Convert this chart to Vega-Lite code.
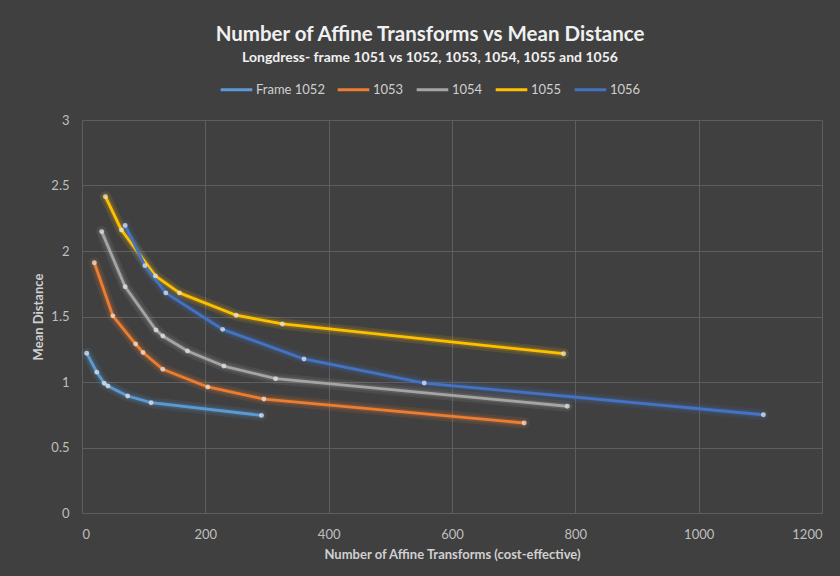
{
  "$schema": "https://vega.github.io/schema/vega-lite/v6.json",
  "autosize": "none",
  "width": 740,
  "height": 393,
  "padding": {"left": 82, "top": 120, "right": 18, "bottom": 63},
  "background": "#404040",
  "title": {
    "text": "Number of Affine Transforms vs Mean Distance",
    "subtitle": "Longdress- frame 1051 vs 1052, 1053, 1054, 1055 and 1056",
    "anchor": "middle",
    "frame": "group",
    "dx": -22,
    "offset": 7,
    "font": "Lato",
    "fontSize": 20.5,
    "fontWeight": "bold",
    "color": "#f0f0f0",
    "subtitleFont": "Lato",
    "subtitleFontSize": 14,
    "subtitleFontWeight": "bold",
    "subtitleColor": "#f0f0f0",
    "subtitlePadding": 6
  },
  "data": {
    "values": [
      {"series": "Frame 1052", "x": 7.6, "y": 1.22},
      {"series": "Frame 1052", "x": 24, "y": 1.075},
      {"series": "Frame 1052", "x": 36, "y": 0.99},
      {"series": "Frame 1052", "x": 42, "y": 0.97},
      {"series": "Frame 1052", "x": 74, "y": 0.893},
      {"series": "Frame 1052", "x": 112, "y": 0.842},
      {"series": "Frame 1052", "x": 291, "y": 0.745},
      {"series": "1053", "x": 20, "y": 1.91},
      {"series": "1053", "x": 50, "y": 1.505},
      {"series": "1053", "x": 87, "y": 1.29},
      {"series": "1053", "x": 99, "y": 1.225},
      {"series": "1053", "x": 131, "y": 1.097},
      {"series": "1053", "x": 204, "y": 0.962},
      {"series": "1053", "x": 295, "y": 0.87},
      {"series": "1053", "x": 717, "y": 0.687},
      {"series": "1054", "x": 32, "y": 2.148},
      {"series": "1054", "x": 70, "y": 1.727},
      {"series": "1054", "x": 120, "y": 1.397},
      {"series": "1054", "x": 131, "y": 1.351},
      {"series": "1054", "x": 171, "y": 1.237},
      {"series": "1054", "x": 230, "y": 1.122},
      {"series": "1054", "x": 314, "y": 1.025},
      {"series": "1054", "x": 787, "y": 0.815},
      {"series": "1055", "x": 38, "y": 2.415},
      {"series": "1055", "x": 64, "y": 2.16},
      {"series": "1055", "x": 119, "y": 1.81},
      {"series": "1055", "x": 158, "y": 1.68},
      {"series": "1055", "x": 250, "y": 1.51},
      {"series": "1055", "x": 325, "y": 1.443},
      {"series": "1055", "x": 781, "y": 1.216},
      {"series": "1056", "x": 70, "y": 2.195},
      {"series": "1056", "x": 102, "y": 1.888},
      {"series": "1056", "x": 136, "y": 1.68},
      {"series": "1056", "x": 228, "y": 1.402},
      {"series": "1056", "x": 360, "y": 1.176},
      {"series": "1056", "x": 555, "y": 0.992},
      {"series": "1056", "x": 1105, "y": 0.75}
    ]
  },
  "encoding": {
    "x": {
      "field": "x", "type": "quantitative",
      "scale": {"domain": [0, 1200], "nice": false, "zero": true},
      "axis": {
        "title": "Number of Affine Transforms (cost-effective)",
        "values": [0, 200, 400, 600, 800, 1000, 1200],
        "format": "d",
        "labelPadding": 15,
        "titlePadding": 7
      }
    },
    "y": {
      "field": "y", "type": "quantitative",
      "scale": {"domain": [0, 3], "nice": false},
      "axis": {
        "title": "Mean Distance",
        "values": [0, 0.5, 1, 1.5, 2, 2.5, 3],
        "format": "~g",
        "labelPadding": 13,
        "titlePadding": 5
      }
    },
    "color": {
      "field": "series", "type": "nominal",
      "scale": {
        "domain": ["Frame 1052", "1053", "1054", "1055", "1056"],
        "range": ["#5B9BD5", "#ED7D31", "#A5A5A5", "#FFC000", "#4472C4"]
      },
      "legend": {
        "title": null,
        "orient": "none",
        "direction": "horizontal",
        "legendX": 137,
        "legendY": -48,
        "symbolType": "stroke",
        "symbolStrokeWidth": 3,
        "symbolSize": 1000,
        "symbolOpacity": 1,
        "labelFont": "Lato",
        "labelFontSize": 13,
        "labelColor": "#d0d0d0",
        "labelOffset": 2,
        "columnPadding": 6
      }
    }
  },
  "layer": [
    {
      "mark": {"type": "line", "strokeWidth": 11, "opacity": 0.12, "strokeCap": "round", "strokeJoin": "round"}
    },
    {
      "mark": {"type": "line", "strokeWidth": 6, "opacity": 0.18, "strokeCap": "round", "strokeJoin": "round"}
    },
    {
      "mark": {"type": "line", "strokeWidth": 2.8, "strokeJoin": "round"}
    },
    {
      "mark": {"type": "point", "filled": true, "size": 24, "opacity": 0.75},
      "encoding": {
        "color": {"value": "#e6e6e6"}
      }
    }
  ],
  "config": {
    "view": {"stroke": null},
    "axis": {
      "domain": false,
      "ticks": false,
      "grid": true,
      "gridColor": "#5e5e5e",
      "gridWidth": 1,
      "labelFont": "Lato",
      "labelFontSize": 13,
      "labelColor": "#bfbfbf",
      "titleFont": "Lato",
      "titleFontSize": 13,
      "titleFontWeight": "bold",
      "titleColor": "#d0d0d0"
    }
  }
}
